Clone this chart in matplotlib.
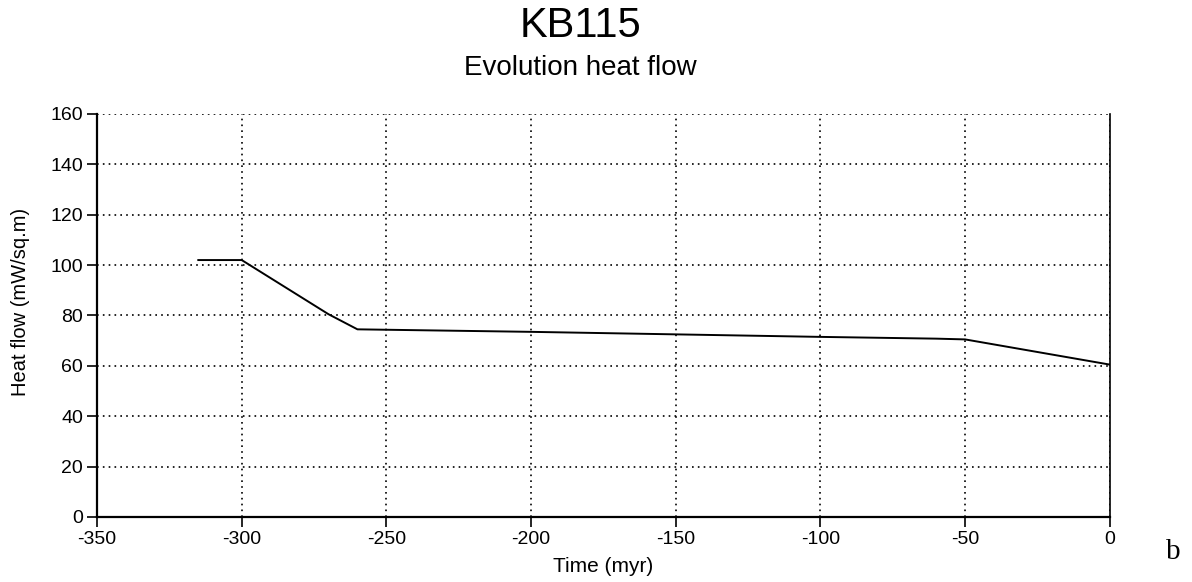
import matplotlib
matplotlib.use("Agg")
import matplotlib.pyplot as plt

# heat flow history
time_myr = [-315, -300, -270, -260, -200, -150, -100, -60, -50, 0]
heat_flow = [102, 102, 80.5, 74.5, 73.5, 72.5, 71.5, 70.8, 70.5, 60.5]

x_ticks = [-350, -300, -250, -200, -150, -100, -50, 0]
y_ticks = [0, 20, 40, 60, 80, 100, 120, 140, 160]

plt.rcParams['font.family'] = ['Liberation Sans', 'DejaVu Sans']
plt.rcParams['axes.unicode_minus'] = False

fig = plt.figure(figsize=(11.92, 5.82), dpi=100)
ax = fig.add_axes([0.0814, 0.1117, 0.8496, 0.6925])

ax.plot(time_myr, heat_flow, color='black', linewidth=1.4, zorder=3)

ax.set_xlim(-350, 0)
ax.set_ylim(0, 160)
ax.set_xticks(x_ticks)
ax.set_yticks(y_ticks)
ax.grid(True, linestyle=(0, (1, 2.5)), color='black', linewidth=1.2)
ax.tick_params(direction='out', length=7, width=1.2, labelsize=14, color='black', pad=3)

ax.spines['top'].set_visible(False)
ax.spines['left'].set_linewidth(1.6)
ax.spines['bottom'].set_linewidth(1.6)
ax.spines['right'].set_linewidth(1.2)

ax.set_xlabel('Time (myr)', fontsize=15)
ax.set_ylabel('Heat flow (mW/sq.m)', fontsize=14.5)
ax.xaxis.set_label_coords(0.5, -0.10)
ax.yaxis.set_label_coords(-0.066, 0.533)

fig.text(0.487, 0.955, 'KB115', ha='center', va='center', fontsize=30)
fig.text(0.487, 0.883, 'Evolution heat flow', ha='center', va='center', fontsize=20)
fig.text(0.984, 0.052, 'b', ha='center', va='center', fontsize=21, family='Liberation Serif')

plt.savefig('out.png', dpi=100)
